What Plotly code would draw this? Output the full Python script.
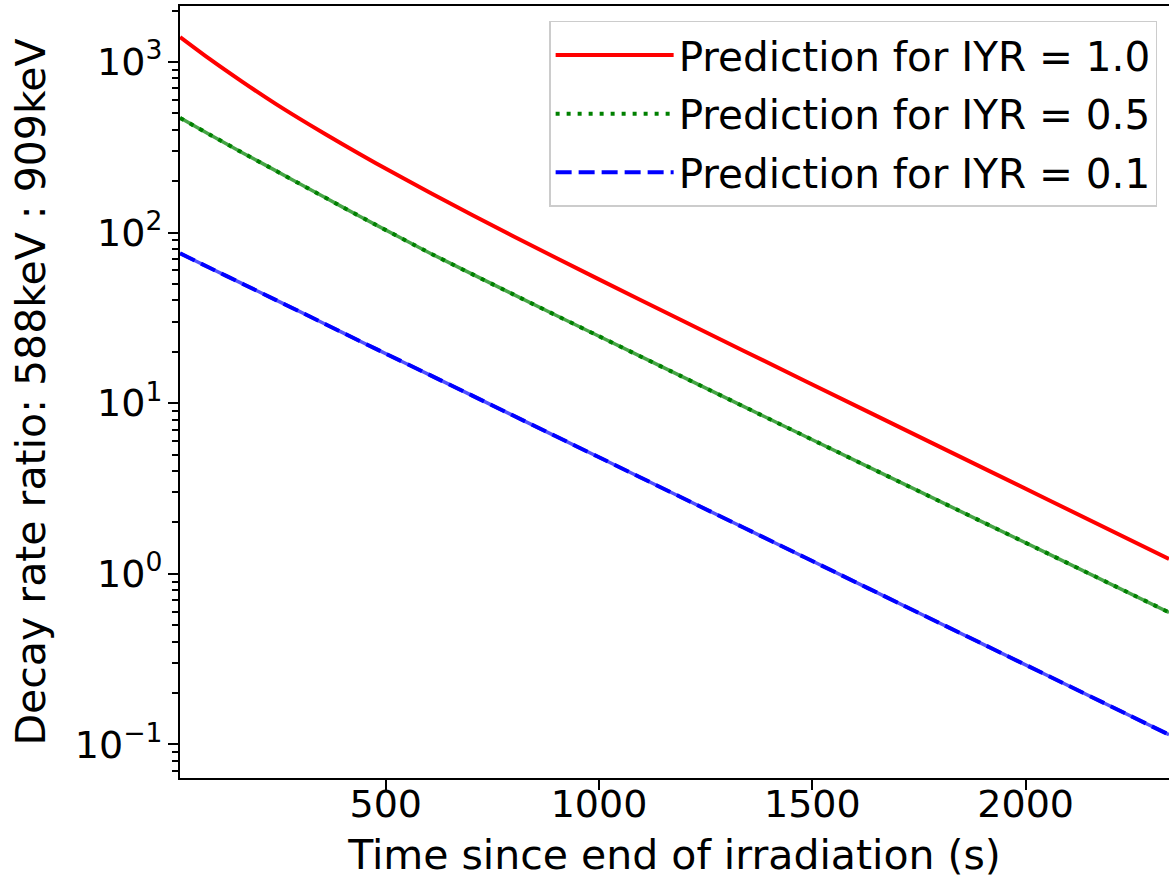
import plotly.graph_objects as go

# Time since end of irradiation (s)
time_s = [18, 87, 165, 243, 321, 399, 477, 604, 799, 994, 1190, 1483, 1775, 2056, 2336]

# Decay rate ratio 588keV : 909keV
iyr_1_0 = [1400, 1042, 762, 566, 429, 329, 255, 171, 95.2, 54.1, 30.9, 13.5, 5.93, 2.69, 1.22]
iyr_0_5 = [470, 376, 293, 230, 180, 141, 111, 75.7, 43.4, 25.1, 14.5, 6.40, 2.84, 1.30, 0.594]
iyr_0_1 = [75.5, 62.2, 50.0, 40.2, 32.3, 25.9, 20.8, 14.6, 8.46, 4.90, 2.83, 1.245, 0.549, 0.250, 0.114]

names = ["Prediction for IYR = 1.0", "Prediction for IYR = 0.5", "Prediction for IYR = 0.1"]

x_ticks = [500, 1000, 1500, 2000]
y_tick_exps = [-1, 0, 1, 2, 3]
y_tick_vals = [10.0 ** e for e in y_tick_exps]
y_tick_text = ["10<sup>" + ("\u2212" + str(-e) if e < 0 else str(e)) + "</sup>" for e in y_tick_exps]
y_minor_vals = [m * 10.0 ** e for e in range(-2, 4) for m in range(2, 10)]

FONT = "DejaVu Sans"
LW = 4

fig = go.Figure()

# underlays giving the near-continuous look of the dotted / dashed curves
fig.add_trace(go.Scatter(x=time_s, y=iyr_0_5, mode="lines", showlegend=False, hoverinfo="skip",
                         line=dict(color="rgb(70,165,70)", width=LW - 0.5, shape="spline", smoothing=0.6)))
fig.add_trace(go.Scatter(x=time_s, y=iyr_0_1, mode="lines", showlegend=False, hoverinfo="skip",
                         line=dict(color="rgb(80,80,255)", width=LW - 0.5, shape="spline", smoothing=0.6)))

fig.add_trace(go.Scatter(x=time_s, y=iyr_1_0, mode="lines", name=names[0], legendgroup="a",
                         line=dict(color="#ff0000", width=LW, shape="spline", smoothing=0.6)))
fig.add_trace(go.Scatter(x=time_s, y=iyr_0_5, mode="lines", name=names[1], legendgroup="b",
                         line=dict(color="#008000", width=LW, dash="4px,7px", shape="spline", smoothing=0.6)))
fig.add_trace(go.Scatter(x=time_s, y=iyr_0_1, mode="lines", name=names[2], legendgroup="c",
                         line=dict(color="#0000ff", width=LW, dash="16px,7px", shape="spline", smoothing=0.6)))

fig.update_layout(
    width=1169, height=879,
    margin=dict(l=180, r=0, t=6, b=101),
    paper_bgcolor="white", plot_bgcolor="white",
    font=dict(family=FONT, size=40, color="black"),
    showlegend=True,
    legend=dict(
        x=0.988, y=0.981, xanchor="right", yanchor="top",
        bgcolor="rgba(255,255,255,0.8)", bordercolor="#cccccc", borderwidth=1.5,
        font=dict(family=FONT, size=40.5, color="black"),
        itemwidth=118, tracegroupgap=3,
    ),
)

fig.update_xaxes(
    range=[17.8, 2336], showgrid=False, zeroline=False, automargin=False,
    showline=True, linecolor="black", linewidth=2, mirror=True,
    ticks="outside", ticklen=10, tickwidth=2, tickcolor="black",
    tickvals=x_ticks, ticktext=[str(v) for v in x_ticks],
    tickfont=dict(family=FONT, size=38), ticklabelstandoff=-19,
    title=dict(text="Time since end of irradiation (s)", font=dict(family=FONT, size=41), standoff=24),
)
fig.update_yaxes(
    type="log", range=[-1.197, 3.328], showgrid=False, zeroline=False, automargin=False,
    showline=True, linecolor="black", linewidth=2, mirror=False,
    ticks="outside", ticklen=10, tickwidth=2, tickcolor="black",
    tickmode="array", tickvals=y_tick_vals, ticktext=y_tick_text,
    tickfont=dict(family=FONT, size=38), ticklabelstandoff=-2,
    minor=dict(tickmode="array", tickvals=y_minor_vals, ticks="outside", ticklen=6,
               tickwidth=1.5, tickcolor="black", showgrid=False),
    title=dict(text="Decay rate ratio: 588keV : 909keV", font=dict(family=FONT, size=41), standoff=16),
)

fig.write_html("out.html", config={"displayModeBar": False},
               post_script="document.body.style.margin='0';")
